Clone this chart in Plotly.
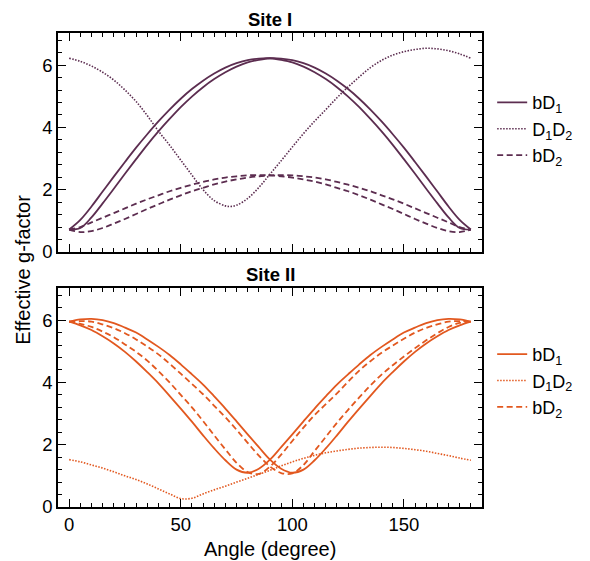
import plotly.graph_objects as go

# Rotation angle (degrees) at which the effective g-factors are tabulated
angle = [0, 5, 10, 15, 20, 25, 30, 35, 40, 45, 50, 55, 60, 65, 70, 75, 80, 85, 90,
         95, 100, 105, 110, 115, 120, 125, 130, 135, 140, 145, 150, 155, 160, 165,
         170, 175, 180]

# ---- Site I ----
site1_bD1_a = [0.72, 1.03, 1.46, 1.94, 2.42, 2.89, 3.35, 3.78, 4.19, 4.57, 4.92, 5.23,
               5.50, 5.73, 5.92, 6.06, 6.16, 6.21, 6.22, 6.17, 6.09, 5.95, 5.77, 5.55,
               5.29, 4.99, 4.65, 4.27, 3.87, 3.44, 2.98, 2.51, 2.03, 1.56, 1.11, 0.77, 0.72]
site1_bD1_b = [0.72, 0.77, 1.11, 1.56, 2.03, 2.51, 2.98, 3.44, 3.87, 4.27, 4.65, 4.99,
               5.29, 5.55, 5.77, 5.95, 6.09, 6.17, 6.22, 6.21, 6.16, 6.06, 5.92, 5.73,
               5.50, 5.23, 4.92, 4.57, 4.19, 3.78, 3.35, 2.89, 2.42, 1.94, 1.46, 1.03, 0.72]
site1_bD2_a = [0.72, 0.80, 0.95, 1.10, 1.25, 1.40, 1.55, 1.69, 1.82, 1.95, 2.06, 2.16,
               2.25, 2.33, 2.39, 2.43, 2.46, 2.47, 2.46, 2.43, 2.39, 2.33, 2.26, 2.17,
               2.06, 1.95, 1.82, 1.68, 1.53, 1.38, 1.22, 1.06, 0.91, 0.77, 0.67, 0.64, 0.72]
site1_bD2_b = [0.72, 0.64, 0.67, 0.77, 0.91, 1.06, 1.22, 1.38, 1.53, 1.68, 1.82, 1.95,
               2.06, 2.17, 2.26, 2.33, 2.39, 2.43, 2.46, 2.47, 2.46, 2.43, 2.39, 2.33,
               2.25, 2.16, 2.06, 1.95, 1.82, 1.69, 1.55, 1.40, 1.25, 1.10, 0.95, 0.80, 0.72]
site1_D1D2_angle = [0, 5, 10, 15, 20, 25, 30, 35, 40, 45, 50, 55, 60, 65, 70, 72, 75, 80,
                    85, 90, 95, 100, 105, 110, 115, 120, 125, 130, 135, 140, 145, 150,
                    155, 160, 165, 170, 175, 180]
site1_D1D2 = [6.22, 6.12, 5.97, 5.77, 5.52, 5.20, 4.83, 4.38, 3.88, 3.43, 2.95, 2.47,
              2.00, 1.65, 1.48, 1.46, 1.50, 1.72, 2.07, 2.50, 2.93, 3.37, 3.80, 4.20,
              4.57, 4.95, 5.30, 5.62, 5.92, 6.15, 6.32, 6.43, 6.50, 6.54, 6.52, 6.46,
              6.36, 6.22]

# ---- Site II ----
site2_bD1_a = [5.95, 6.02, 6.04, 6.00, 5.90, 5.76, 5.60, 5.38, 5.14, 4.88, 4.58, 4.26,
               3.93, 3.55, 3.16, 2.75, 2.33, 1.92, 1.52, 1.23, 1.10, 1.20, 1.50, 1.88,
               2.30, 2.74, 3.16, 3.57, 3.97, 4.33, 4.67, 4.98, 5.25, 5.48, 5.68, 5.83, 5.95]
site2_bD1_b = [5.95, 5.83, 5.68, 5.48, 5.25, 4.98, 4.67, 4.33, 3.97, 3.57, 3.16, 2.74,
               2.30, 1.88, 1.50, 1.20, 1.10, 1.23, 1.52, 1.92, 2.33, 2.75, 3.16, 3.55,
               3.93, 4.26, 4.58, 4.88, 5.14, 5.38, 5.60, 5.76, 5.90, 6.00, 6.04, 6.02, 5.95]
site2_bD2_a = [5.95, 5.97, 5.95, 5.86, 5.74, 5.58, 5.38, 5.15, 4.90, 4.60, 4.28, 3.95,
               3.62, 3.25, 2.88, 2.48, 2.06, 1.65, 1.30, 1.09, 1.08, 1.35, 1.80, 2.25,
               2.70, 3.12, 3.52, 3.90, 4.25, 4.55, 4.83, 5.10, 5.35, 5.58, 5.78, 5.91, 5.95]
site2_bD2_b = [5.95, 5.88, 5.78, 5.63, 5.45, 5.22, 4.98, 4.70, 4.36, 4.00, 3.60, 3.20,
               2.76, 2.30, 1.85, 1.42, 1.12, 1.06, 1.30, 1.68, 2.12, 2.55, 2.95, 3.30,
               3.65, 4.02, 4.38, 4.68, 4.95, 5.18, 5.40, 5.60, 5.75, 5.86, 5.95, 5.97, 5.95]
site2_D1D2 = [1.52, 1.45, 1.35, 1.25, 1.13, 1.00, 0.88, 0.74, 0.58, 0.42, 0.27, 0.28,
              0.42, 0.55, 0.67, 0.80, 0.92, 1.05, 1.18, 1.32, 1.45, 1.56, 1.66, 1.74,
              1.80, 1.85, 1.89, 1.91, 1.92, 1.91, 1.88, 1.84, 1.79, 1.72, 1.65, 1.57, 1.50]

x_ticks = [0, 50, 100, 150]
y_ticks = [0, 2, 4, 6]

PLUM = "#5C2D50"
ORANGE = "#E2581F"
FONT = "Liberation Sans, Arial, sans-serif"

SOLID = dict(width=1.8)
DASH = dict(width=1.8, dash="6px,3.5px")
DOT = dict(width=1.6, dash="1.5px,1.5px")

fig = go.Figure()


def add_panel(xa, ya, legend, color, bd1, d1d2_x, d1d2, bd2):
    fig.add_trace(go.Scatter(x=angle, y=bd1[0], mode="lines", name="bD<sub>1</sub>",
                             line=dict(color=color, shape="spline", **SOLID),
                             xaxis=xa, yaxis=ya, legend=legend, legendgroup=legend + "a"))
    fig.add_trace(go.Scatter(x=angle, y=bd1[1], mode="lines", showlegend=False,
                             line=dict(color=color, shape="spline", **SOLID),
                             xaxis=xa, yaxis=ya, legend=legend, legendgroup=legend + "a"))
    fig.add_trace(go.Scatter(x=d1d2_x, y=d1d2, mode="lines",
                             name="D<sub>1</sub>D<sub>2</sub>",
                             line=dict(color=color, shape="spline", **DOT),
                             xaxis=xa, yaxis=ya, legend=legend, legendgroup=legend + "b"))
    fig.add_trace(go.Scatter(x=angle, y=bd2[0], mode="lines", name="bD<sub>2</sub>",
                             line=dict(color=color, shape="spline", **DASH),
                             xaxis=xa, yaxis=ya, legend=legend, legendgroup=legend + "c"))
    fig.add_trace(go.Scatter(x=angle, y=bd2[1], mode="lines", showlegend=False,
                             line=dict(color=color, shape="spline", **DASH),
                             xaxis=xa, yaxis=ya, legend=legend, legendgroup=legend + "c"))


add_panel("x", "y", "legend", PLUM, (site1_bD1_a, site1_bD1_b), site1_D1D2_angle,
          site1_D1D2, (site1_bD2_a, site1_bD2_b))
add_panel("x2", "y2", "legend2", ORANGE, (site2_bD1_a, site2_bD1_b), angle,
          site2_D1D2, (site2_bD2_a, site2_bD2_b))

axis_common = dict(showline=True, linecolor="black", linewidth=1.5, mirror="allticks",
                   ticks="inside", ticklen=8, tickwidth=1.4, tickcolor="black",
                   showgrid=False, zeroline=False,
                   tickfont=dict(family=FONT, size=18.5, color="black"))

xcommon = dict(axis_common, range=[-5, 185], tickvals=x_ticks,
               minor=dict(dtick=5, tick0=0, ticks="inside", ticklen=4, tickwidth=1.2,
                          tickcolor="black"))
ycommon = dict(axis_common, range=[0, 7.03], tickvals=y_ticks,
               minor=dict(dtick=0.4, tick0=0, ticks="inside", ticklen=4, tickwidth=1.2,
                          tickcolor="black"))

legend_common = dict(x=1.024, xanchor="left", bgcolor="rgba(0,0,0,0)",
                     font=dict(family=FONT, size=18, color="black"),
                     tracegroupgap=0, itemwidth=30)

fig.update_layout(
    width=590, height=561,
    margin=dict(l=58, r=94, t=33, b=54),
    paper_bgcolor="white", plot_bgcolor="white",
    font=dict(family=FONT, color="black"),
    xaxis=dict(xcommon, domain=[0, 1], anchor="y", showticklabels=False),
    yaxis=dict(ycommon, domain=[0.538, 1], anchor="x"),
    xaxis2=dict(xcommon, domain=[0, 1], anchor="y2"),
    yaxis2=dict(ycommon, domain=[0, 0.462], anchor="x2"),
    legend=dict(legend_common, y=0.797, yanchor="middle"),
    legend2=dict(legend_common, y=0.266, yanchor="middle"),
    annotations=[
        dict(text="<b>Site I</b>", x=0.5, y=1.0, xref="paper", yref="paper",
             xanchor="center", yanchor="bottom", yshift=1, showarrow=False,
             font=dict(family=FONT, size=18.5, color="black")),
        dict(text="<b>Site II</b>", x=0.5, y=0.462, xref="paper", yref="paper",
             xanchor="center", yanchor="bottom", yshift=1, showarrow=False,
             font=dict(family=FONT, size=18.5, color="black")),
        dict(text="Effective g-factor", x=-0.083, y=0.5, xref="paper", yref="paper",
             textangle=-90, xanchor="center", yanchor="middle", showarrow=False,
             font=dict(family=FONT, size=20, color="black")),
        dict(text="Angle (degree)", x=0.5, y=-0.088, xref="paper", yref="paper",
             xanchor="center", yanchor="middle", showarrow=False,
             font=dict(family=FONT, size=20, color="black")),
    ],
)

fig.write_html("out.html")
